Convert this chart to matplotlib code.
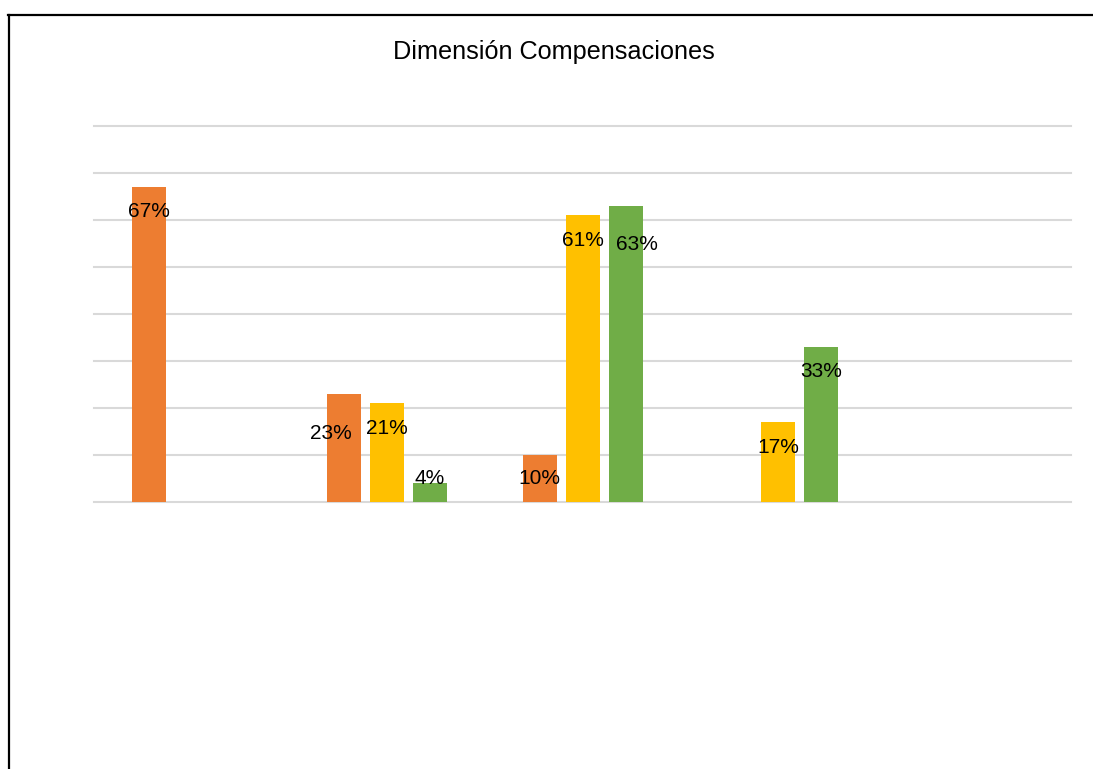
import numpy as np
import matplotlib.pyplot as plt
from matplotlib.lines import Line2D

plt.rcParams['font.family'] = ['Liberation Sans', 'DejaVu Sans']

title = "Dimensión Compensaciones"
categories = ['', '', '', '', '']
orange = [67, 23, 10, 0, 0]
yellow = [0, 21, 61, 17, 0]
green = [0, 4, 63, 33, 0]

series = [orange, yellow, green]
colors = ['#ED7D31', '#FFC000', '#70AD47']

# manual nudges for labels that would overlap (series index, category index): (dx, dy)
nudges = {(0, 1): (-0.07, -3.1), (2, 2): (0.056, -2.9)}

fig = plt.figure(figsize=(10.93, 7.69), dpi=100)
ax = fig.add_axes([0.0860, 0.3472, 0.8939, 0.4890])

x = np.arange(len(categories))
width = 0.174
offsets = [-0.22, 0.0, 0.22]

for i, (vals, col) in enumerate(zip(series, colors)):
    for j, v in enumerate(vals):
        if v == 0:
            continue
        xpos = x[j] + offsets[i]
        ax.bar(xpos, v, width=width, color=col, zorder=3)
        dx, dy = nudges.get((i, j), (0, 0))
        ypos = max(v - 5.3, 4.9) + dy
        ax.text(xpos + dx, ypos, f"{v}%", ha='center', va='center',
                fontsize=15, color='black', zorder=4)

ax.set_xlim(-0.5, 4.5)
ax.set_ylim(0, 80)
ax.set_yticks(np.arange(0, 81, 10))
ax.set_xticks([])
ax.tick_params(axis='y', length=0, labelleft=False)
ax.grid(axis='y', color='#d9d9d9', linewidth=1.5, zorder=0)
for gl in ax.get_ygridlines():
    gl.set_clip_on(False)
for s in ax.spines.values():
    s.set_visible(False)

fig.text(0.507, 0.933, title, ha='center', va='center', fontsize=18.2)

# outer frame (only top and left edges are visible)
fig.add_artist(Line2D([8 / 1093, 1.0], [0.9805, 0.9805], color='black', lw=1.6))
fig.add_artist(Line2D([9 / 1093, 9 / 1093], [0.0, 0.9805], color='black', lw=1.6))

plt.savefig('out.png', format='png', dpi=100)
